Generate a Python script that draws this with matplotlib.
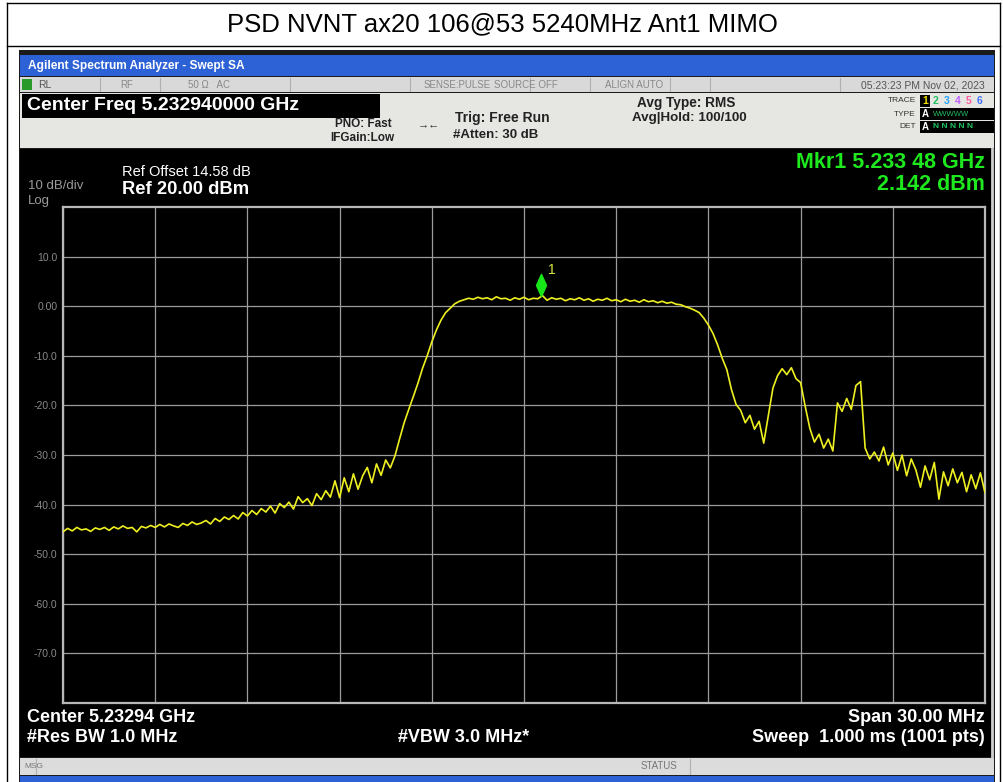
import numpy as np
import matplotlib
matplotlib.use('Agg')
import matplotlib.pyplot as plt
from matplotlib.patches import Rectangle
from matplotlib.path import Path
import matplotlib.transforms as mtransforms

plt.rcParams['font.family'] = ['Liberation Sans', 'DejaVu Sans']

centro_ghz = 5.23294
span_mhz = 30.0
traza_dbm = [
    -45.5, -44.8, -45.3, -44.6, -45.1, -44.9, -45.4, -44.7, -45.0, -44.6,
    -45.2, -44.5, -44.9, -44.3, -44.8, -44.6, -45.5, -44.4, -44.7, -44.2,
    -44.6, -44.0, -44.5, -43.9, -44.3, -44.6, -43.8, -44.2, -43.5, -44.0,
    -43.7,
    -43.2, -43.9, -42.8, -43.4, -42.5, -43.0, -42.2, -42.9, -41.6, -42.3,
    -41.2, -42.0, -40.8, -41.5, -40.3, -41.7, -39.8, -40.6, -39.5, -40.9,
    -38.4, -39.6, -38.8, -40.2, -37.8, -39.0, -37.2, -38.5,
    -35.2, -38.6, -34.6, -37.4, -33.8, -36.9, -34.2, -32.5, -35.6, -31.8,
    -34.1, -31.0, -32.6, -30.2,
    -26.8, -23.5, -20.8, -18.2, -15.5, -12.5, -10.0, -7.2, -4.8, -2.8,
    -1.3, -0.4,
    0.5, 1.0, 1.3, 1.6, 1.4, 1.8, 1.5, 1.7, 1.3, 1.9,
    1.5, 1.6, 1.2, 1.7, 1.4, 1.8, 1.3, 1.6, 1.5, 2.14,
    1.2, 1.7, 1.4, 1.6, 1.1, 1.5, 1.3, 1.7, 1.2, 1.5,
    1.0, 1.4, 1.2, 1.6, 1.1, 1.3, 0.9, 1.4, 1.0, 1.2,
    0.8, 1.3, 0.9, 1.1, 0.7, 1.0, 0.6, 0.8, 0.4, 0.3,
    -0.1, -0.4, -0.8, -1.3,
    -2.4, -3.8, -5.5, -7.8, -10.5, -12.8, -16.8, -19.8, -21.0, -23.5,
    -22.0, -24.8, -23.2,
    -27.6, -22.0, -16.5,
    -14.0, -12.6, -13.8, -12.4, -14.6, -15.4,
    -20.2, -24.6, -27.4, -25.8, -28.6, -26.8, -29.2,
    -19.5, -21.2, -18.6, -20.8, -16.0, -15.2,
    -28.6, -30.8, -29.4,
    -31.2, -28.4, -32.0, -29.6, -33.1, -30.0, -34.2, -30.8, -33.0, -36.5,
    -32.2, -35.0, -31.5, -38.9, -33.4, -36.2, -32.8, -35.6, -33.5, -37.4,
    -34.0, -36.8, -33.6, -37.6,
]
marcador_ghz = 5.23348
marcador_dbm = 2.142
ytick_vals = [10, 0, -10, -20, -30, -40, -50, -60, -70]
ytick_txt = ['10.0', '0.00', '-10.0', '-20.0', '-30.0', '-40.0', '-50.0', '-60.0', '-70.0']

W, H = 1004, 782
fig = plt.figure(figsize=(W / 100, H / 100), dpi=100)
fig.patch.set_facecolor('white')

# Fondo: coordenadas en pixeles
bg = fig.add_axes([0, 0, 1, 1])
bg.set_xlim(0, W)
bg.set_ylim(H, 0)
bg.axis('off')

def rect(x0, y0, x1, y1, fc, ec='none', lw=0):
    bg.add_patch(Rectangle((x0, y0), x1 - x0, y1 - y0, facecolor=fc, edgecolor=ec, linewidth=lw))

def txt(x, y, s, size, color='black', weight='normal', ha='left', **kw):
    bg.text(x, y, s, fontsize=size, color=color, fontweight=weight, ha=ha, va='center', **kw)

# Marco de la tabla y titulo
bg.plot([7, 7], [3, H], color='black', lw=1)
bg.plot([1000, 1000], [3, H], color='black', lw=1)
bg.plot([7, 1000], [3, 3], color='black', lw=1)
bg.plot([7, 1000], [46, 46], color='black', lw=1)
txt(W / 2, 24, 'PSD NVNT ax20 106@53 5240MHz Ant1 MIMO', 18.5, ha='center')

# Captura del analizador
rect(19, 50, 995, H, '#1b1b1b')
rect(20, 55, 994, 76, '#2d62d6')
txt(28, 66, 'Agilent Spectrum Analyzer - Swept SA', 8.6, color='white', weight='bold')
rect(20, 77, 994, 92, '#d9d9d9')
for xs in [100, 160, 290, 410, 530, 590, 670, 710, 840]:
    bg.plot([xs, xs], [78, 91], color='#b0b0b0', lw=0.8)
rect(22, 79, 32, 90, '#2a9a2a')
txt(38, 85, 'RL', 7.5, color='#555555')
txt(120, 85, 'RF', 7, color='#888888')
txt(188, 85, '50 Ω   AC', 7, color='#888888')
txt(424, 85, 'SENSE:PULSE', 7, color='#888888')
txt(494, 85, 'SOURCE OFF', 7, color='#888888')
txt(605, 85, 'ALIGN AUTO', 7, color='#888888')
txt(985, 85, '05:23:23 PM Nov 02, 2023', 7.5, color='#555555', ha='right')

rect(20, 93, 994, 148, '#e6e6e3')
rect(22, 94, 380, 118, 'black')
txt(27, 105, 'Center Freq 5.232940000 GHz', 14, color='white', weight='bold')
txt(335, 124, 'PNO: Fast', 8.5, color='#222222', weight='bold')
txt(330, 138, 'IFGain:Low', 8.5, color='#222222', weight='bold')
txt(418, 124, '→←', 8, color='#333333')
txt(455, 118, 'Trig: Free Run', 10, color='#222222', weight='bold')
txt(453, 135, '#Atten: 30 dB', 9.5, color='#222222', weight='bold')
txt(637, 103, 'Avg Type: RMS', 9.8, color='#222222', weight='bold')
txt(632, 118, 'Avg|Hold: 100/100', 9.6, color='#222222', weight='bold')
txt(916, 101, 'TRACE', 6, color='#333333', ha='right')
txt(916, 114, 'TYPE', 6, color='#333333', ha='right')
txt(916, 127, 'DET', 6, color='#333333', ha='right')
rect(920, 95, 930, 107, 'black')
colores_traza = ['#f0e000', '#20c060', '#20a0ff', '#c060ff', '#ff60a0', '#4070ff']
for k, c in enumerate(colores_traza):
    txt(922 + k * 11, 101, str(k + 1), 7.5, color=c, weight='bold')
rect(920, 108, 994, 120, 'black')
txt(922, 114, 'A', 7, color='white', weight='bold')
txt(933, 114, 'WWWWW', 5.5, color='#20c060')
rect(920, 121, 994, 133, 'black')
txt(922, 127, 'A', 7, color='white', weight='bold')
txt(933, 127, 'N N N N N', 6, color='#20c060', weight='bold')

rect(20, 149, 991, 757, 'black')
bg.plot([992, 992], [149, 757], color='#cfcfcf', lw=2)
txt(122, 172, 'Ref Offset 14.58 dB', 10.5, color='white')
txt(122, 190, 'Ref 20.00 dBm', 13.2, color='white', weight='bold')
txt(28, 186, '10 dB/div', 9.5, color='#9a9a9a')
txt(28, 201, 'Log', 9.5, color='#9a9a9a')
txt(985, 162, 'Mkr1 5.233 48 GHz', 15.5, color='#1ee81e', weight='bold', ha='right')
txt(985, 185, '2.142 dBm', 15.5, color='#1ee81e', weight='bold', ha='right')
txt(27, 717, 'Center 5.23294 GHz', 13, color='white', weight='bold')
txt(27, 738, '#Res BW 1.0 MHz', 13, color='white', weight='bold')
txt(398, 738, '#VBW 3.0 MHz*', 13, color='white', weight='bold')
txt(985, 717, 'Span 30.00 MHz', 13, color='white', weight='bold', ha='right')
txt(985, 738, 'Sweep  1.000 ms (1001 pts)', 13, color='white', weight='bold', ha='right')
rect(20, 758, 994, 775, '#dcdcdc')
bg.plot([36, 36], [759, 774], color='#b0b0b0', lw=0.8)
bg.plot([690, 690], [759, 774], color='#b0b0b0', lw=0.8)
txt(24, 766, 'MSG', 6, color='#777777')
txt(641, 766, 'STATUS', 7, color='#777777')
rect(20, 776, 994, H, '#2d62d6')

# Area de la traza
x0, x1, y0, y1 = 63, 985, 207, 703
ax = fig.add_axes([x0 / W, 1 - y1 / H, (x1 - x0) / W, (y1 - y0) / H])
ax.set_facecolor('black')
f_ini = centro_ghz - span_mhz / 2000
f_fin = centro_ghz + span_mhz / 2000
freqs = np.linspace(f_ini, f_fin, len(traza_dbm))
ax.plot(freqs, traza_dbm, color='#eef020', lw=1.2, zorder=3)
ax.set_xlim(f_ini, f_fin)
ax.set_ylim(-80, 20)
ax.set_xticks(np.linspace(f_ini, f_fin, 11))
ax.set_yticks(ytick_vals)
ax.set_yticklabels(ytick_txt)
ax.tick_params(axis='y', length=0, labelsize=7.5, labelcolor='#8a8a8a', pad=4)
ax.tick_params(axis='x', length=0, labelbottom=False)
ax.grid(True, color='#9c9c9c', lw=0.9)
for sp in ax.spines.values():
    sp.set_color('#b8b8b8')
    sp.set_linewidth(1.6)

# Marcador 1
rombo = Path([(0, -1), (0.45, 0), (0, 1), (-0.45, 0), (0, -1)],
             [Path.MOVETO, Path.LINETO, Path.LINETO, Path.LINETO, Path.CLOSEPOLY])
desplazado = mtransforms.offset_copy(ax.transData, fig=fig, x=0, y=11, units='dots')
ax.plot([marcador_ghz], [marcador_dbm], marker=rombo, markersize=16, color='#19e619',
        linestyle='none', transform=desplazado, zorder=4)
ax.annotate('1', (marcador_ghz, marcador_dbm), xytext=(7, 22), textcoords='offset pixels',
            color='#d8e840', fontsize=10, zorder=4)

fig.savefig('out.png', dpi=100, facecolor='white')
